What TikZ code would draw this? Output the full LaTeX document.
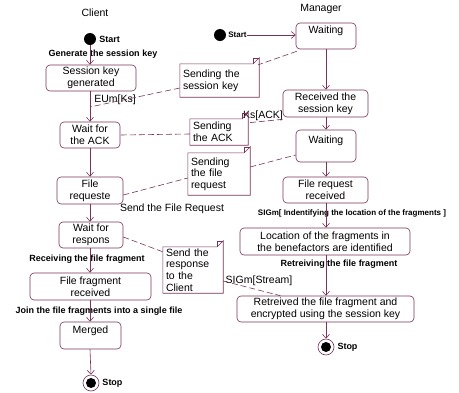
\documentclass[tikz,border=0pt]{standalone}
\usepackage{fontspec}
\setmainfont{Liberation Sans}
\usetikzlibrary{arrows.meta,calc}
\definecolor{mauve}{RGB}{120,52,88}
\tikzset{
  box/.style={draw=mauve, line width=0.6pt, rounded corners=4pt, fill=white, align=center,
    font=\fontsize{10.5}{11.7}\selectfont, inner sep=1pt},
  notebox/.style={align=left, font=\fontsize{10.5}{11.6}\selectfont,
    inner xsep=3pt, inner ysep=0pt},
  lbl/.style={font=\fontsize{9}{10}\selectfont\bfseries, inner sep=0pt},
  slbl/.style={font=\fontsize{8}{9}\selectfont\bfseries, inner sep=0pt},
  rlbl/.style={font=\fontsize{10.5}{12}\selectfont, inner sep=0pt},
  title/.style={font=\fontsize{10.5}{12}\selectfont, inner sep=0pt},
  arr/.style={draw=mauve, line width=0.6pt, -{Straight Barb[length=4pt,width=7pt]}},
  dline/.style={draw=mauve, line width=0.6pt, dash pattern=on 6pt off 3pt},
  startdot/.style={circle, fill=black, minimum size=12pt, inner sep=0pt},
  stopring/.style={circle, draw=mauve, line width=0.6pt, fill=white, minimum size=16pt, inner sep=0pt},
}
\newcommand\dogear[1]{%
  \draw[mauve, line width=0.6pt] (#1.north west) -- ([xshift=-6pt]#1.north east)
    -- ([yshift=6pt]#1.north east) -- (#1.south east) -- (#1.south west) -- cycle;
  \draw[mauve, line width=0.6pt] ([xshift=-6pt]#1.north east) |- ([yshift=6pt]#1.north east);}
\begin{document}
\begin{tikzpicture}[x=1pt,y=-1pt]
\useasboundingbox[fill=white] (0,0) rectangle (459,392);

% ---------- Client ----------
\node[title] (ctitle) at (95,13) {Client};
\node[startdot] (cstart) at (90,39) {};
\node[lbl, anchor=west] (cstartl) at ([xshift=3pt]cstart.east) {Start};
\node[box, minimum width=90pt, minimum height=26pt] (skg) at (91,78) {Session key\\generated};
\node[box, minimum width=60pt, minimum height=26pt] (wack) at (90,135) {Wait for\\the ACK};
\node[box, minimum width=66pt, minimum height=27pt] (freq) at (90,190.5) {File\\requeste};
\node[box, minimum width=64pt, minimum height=26pt] (wresp) at (91,235) {Wait for\\respons};
\node[box, minimum width=121pt, minimum height=27pt] (ffr) at (90.5,286.5) {File fragment\\received};
\node[box, minimum width=61pt, minimum height=27pt] (merged) at (90.5,335.5) {Merged\\~};
\node[stopring] (cstop) at (91,383) {};
\fill (cstop.center) circle (5pt);
\node[lbl, anchor=west] (cstopl) at ([xshift=3pt]cstop.east) {Stop};

\node[lbl] (genl) at (103,54) {Generate the session key};
\node[rlbl] (euml) at (115,100) {EUm[Ks]};
\node[rlbl] (sfrl) at (172,209) {Send the File Request};
\node[lbl] (recvl) at (87,259) {Receiving the file fragment};
\node[lbl] (joinl) at (99,311) {Join the file fragments into a single file};

\draw[arr] (cstart) -- (skg.north -| cstart);
\draw[arr] (skg.south -| wack) -- (wack.north);
\draw[arr] (wack) -- (freq);
\draw[arr] (freq.south) -- (wresp.north -| freq);
\draw[arr] (wresp.south -| freq) -- (ffr.north -| freq);
\draw[arr] (ffr.south -| freq) -- (merged.north -| freq);
\draw[arr] (merged.south -| freq) -- (cstop.north);

% ---------- Manager ----------
\node[title] (mtitle) at (321,9) {Manager};
\node[startdot] (mstart) at (220,35) {};
\node[slbl, anchor=west] (mstartl) at ([xshift=2pt]mstart.east) {Start};
\node[box, minimum width=60pt, minimum height=26pt] (wait1) at (326,36) {Waiting\\~};
\node[box, minimum width=85pt, minimum height=27pt] (rsk) at (325.5,103.5) {Received the\\session key};
\node[box, minimum width=60pt, minimum height=32pt] (wait2) at (326,146) {Waiting\\~};
\node[box, minimum width=85pt, minimum height=26pt] (frr) at (325.5,190) {File request\\received};
\node[box, minimum width=170pt, minimum height=27pt] (loc) at (325,241.5) {Location of the fragments in\\the benefactors are identified};
\node[box, minimum width=177pt, minimum height=26pt] (retd) at (325.5,309) {Retreived the file fragment and\\encrypted using the session key};
\node[stopring] (mstop) at (326,347) {};
\fill (mstop.center) circle (5pt);
\node[lbl, anchor=west] (mstopl) at ([xshift=3pt]mstop.east) {Stop};

\node[rlbl] (ksackl) at (263,116) {Ks[ACK]};
\node[slbl] (sigml) at (352,213) {SIGm[ Indentifying the location of the fragments ]};
\node[lbl] (retrl) at (339,264) {Retreiving the file fragment};
\node[rlbl] (streaml) at (259,281) {SIGm[Stream]};

\draw[arr] (mstartl.east) -- (wait1.west |- mstart);
\draw[arr] (wait1.south) -- (rsk.north -| wait1);
\draw[arr] (rsk.south -| wait1) -- (wait2.north);
\draw[arr] (wait2.south) -- (frr.north -| wait2);
\draw[arr] (frr.south -| wait2) -- (loc.north -| wait2);
\draw[arr] (loc.south -| wait2) -- (retd.north -| wait2);
\draw[arr] (retd.south -| wait2) -- (mstop.north);

% ---------- Notes ----------
\node[notebox, text width=73pt, minimum width=79pt, minimum height=33pt] (n1) at (219.5,80.5) {Sending the\\session key};
\node[notebox, text width=52pt, minimum width=58pt, minimum height=26pt] (n2) at (219,132) {Sending\\the ACK};
\node[notebox, text width=56pt, minimum width=62pt, minimum height=42pt] (n3) at (219,174) {Sending\\the file\\request};
\node[notebox, text width=54pt, minimum width=60pt, minimum height=46pt] (n4) at (193,270) {Send the\\response\\to the\\Client};
\dogear{n1}\dogear{n2}\dogear{n3}\dogear{n4}

\coordinate (e1) at (90,107);
\draw[dline] ([xshift=1pt,yshift=-2pt]wait1.south west) -- ([xshift=-1pt,yshift=-1pt]n1.north east);
\draw[dline] ([yshift=-7.5pt]n1.west) -- (e1);
\draw[dline] ([yshift=-2pt]rsk.south west) -- ([yshift=-4pt]n2.north east);
\draw[dline] ([yshift=-2pt]n2.west) -- (wack.east);
\draw[dline] ([yshift=7pt]n3.east) -- ([yshift=-9pt]wait2.west);
\draw[dline] ([yshift=-4.5pt]freq.east) -- ([yshift=-4pt]n3.west);
\draw[dline] ([yshift=-2pt]wresp.east) -- ([yshift=-5pt]n4.north west);
\draw[dline] ([yshift=-11pt]n4.east) -- ([xshift=-45pt]retd.north);
\end{tikzpicture}
\end{document}
